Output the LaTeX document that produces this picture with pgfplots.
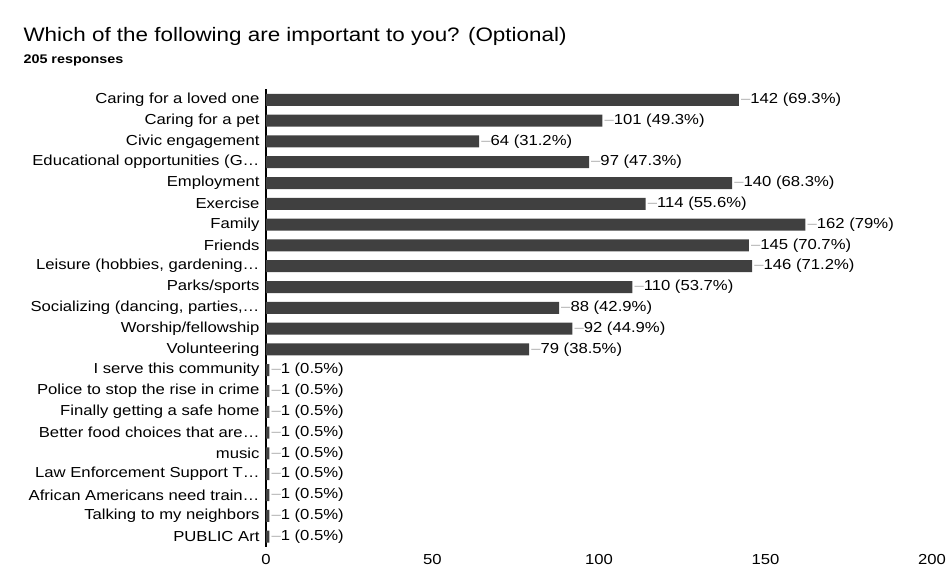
\documentclass[border=0pt]{standalone}
\usepackage{pgfplots}
\usepackage{pgfplotstable}
\pgfplotsset{compat=1.18}
\usepackage{fontspec}
\setmainfont{Liberation Sans}[FakeStretch=1.15]
\definecolor{barc}{HTML}{404040}
\pgfplotstableread{
row val lab
0 142 {142 (69.3\%)}
1 101 {101 (49.3\%)}
2 64 {64 (31.2\%)}
3 97 {97 (47.3\%)}
4 140 {140 (68.3\%)}
5 114 {114 (55.6\%)}
6 162 {162 (79\%)}
7 145 {145 (70.7\%)}
8 146 {146 (71.2\%)}
9 110 {110 (53.7\%)}
10 88 {88 (42.9\%)}
11 92 {92 (44.9\%)}
12 79 {79 (38.5\%)}
13 1 {1 (0.5\%)}
14 1 {1 (0.5\%)}
15 1 {1 (0.5\%)}
16 1 {1 (0.5\%)}
17 1 {1 (0.5\%)}
18 1 {1 (0.5\%)}
19 1 {1 (0.5\%)}
20 1 {1 (0.5\%)}
21 1 {1 (0.5\%)}
}\datatable
\begin{document}
\begin{tikzpicture}
\useasboundingbox (-266pt,-25pt) rectangle (681pt,547pt);
\begin{axis}[
  at={(0pt,0pt)}, anchor=south west,
  scale only axis, width=666pt, height=457.6pt,
  xbar, bar width=12pt,
  xmin=0, xmax=200, ymin=-0.5, ymax=21.5, y dir=reverse,
  xtick={0,50,100,150,200},
  ytick={0,...,21},
  yticklabels={{Caring for a loved one},{Caring for a pet},{Civic engagement},{Educational opportunities (G…},{Employment},{Exercise},{Family},{Friends},{Leisure (hobbies, gardening…},{Parks/sports},{Socializing (dancing, parties,…},{Worship/fellowship},{Volunteering},{I serve this community},{Police to stop the rise in crime},{Finally getting a safe home},{Better food choices that are…},{music},{Law Enforcement Support T…},{African Americans need train…},{Talking to my neighbors},{PUBLIC Art}},
  axis lines*=left,
  x axis line style={draw=none},
  y axis line style={line width=1.2pt, black},
  major tick length=0pt,
  tick label style={font=\fontsize{14.5}{16}\selectfont},
  /pgf/number format/assume math mode=true,
  xticklabel style={yshift=-4pt},
  yticklabel style={xshift=-3pt},
  point meta=explicit symbolic,
  nodes near coords={\textcolor{gray!60}{--}\pgfplotspointmeta},
  every node near coord/.append style={font=\fontsize{14.5}{16}\selectfont, black, inner xsep=2pt, anchor=west},
]
\addplot[fill=barc, draw=none] table[x=val, y=row, meta=lab] {\datatable};
\end{axis}
\node[anchor=west, font=\fontsize{19.5}{22}\selectfont] at (-246pt,511pt) {Which of the following are important to you? (Optional)};
\node[anchor=west, font=\bfseries\fontsize{12.5}{14}\selectfont] at (-246pt,487pt) {205 responses};
\end{tikzpicture}
\end{document}
